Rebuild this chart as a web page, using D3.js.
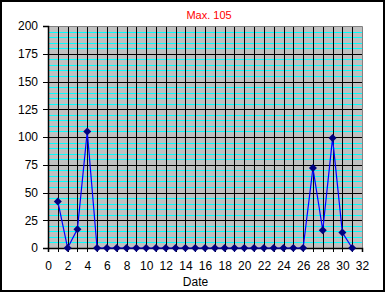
<!DOCTYPE html>
<html lang="en">
<head>
    <meta charset="UTF-8" />
    <title>Max. 105</title>
    <script src="https://d3js.org/d3.v7.min.js"></script>
    <style>
        body { margin: 0; background: #fff; }
        #chart { width: 386px; height: 293px; }
        text { font-family: "Liberation Sans", Arial, sans-serif; }
    </style>
</head>
<body>
    <div id="chart"></div>
    <script>
        // --- Data ---
        const dates = [1, 2, 3, 4, 5, 6, 7, 8, 9, 10, 11, 12, 13, 14, 15, 16,
                       17, 18, 19, 20, 21, 22, 23, 24, 25, 26, 27, 28, 29, 30, 31];
        const values = [42, 0, 17, 105, 0, 0, 0, 0, 0, 0, 0, 0, 0, 0, 0, 0,
                        0, 0, 0, 0, 0, 0, 0, 0, 0, 0, 72, 16, 99, 14, 0];
        const xTicks = d3.range(0, 33, 2);
        const yTicks = [0, 25, 50, 75, 100, 125, 150, 175, 200];
        const titleText = "Max. 105";
        const xTitle = "Date";

        const W = 386, H = 293;
        const margin = { left: 48, top: 26, right: 24, bottom: 45 };

        const svg = d3.select("#chart").append("svg")
            .attr("width", W)
            .attr("height", H);

        const x = d3.scaleLinear().domain([0, 32]).range([margin.left, W - margin.right]);
        const y = d3.scaleLinear().domain([0, 200]).range([H - margin.bottom, margin.top]);

        // outer frame
        svg.append("rect")
            .attr("x", 1).attr("y", 1)
            .attr("width", W - 3).attr("height", H - 3)
            .attr("fill", "#fff")
            .attr("stroke", "#000")
            .attr("stroke-width", 2);

        // plot background
        svg.append("rect")
            .attr("x", x(0)).attr("y", y(200))
            .attr("width", x(32) - x(0)).attr("height", y(0) - y(200))
            .attr("fill", "#c0c0c0");

        // minor horizontal grid (cyan, every 5)
        svg.append("g").selectAll("line")
            .data(d3.range(5, 200, 5).filter(v => v % 25 !== 0))
            .join("line")
            .attr("x1", x(0)).attr("x2", x(32))
            .attr("y1", d => Math.round(y(d)) + 0.5).attr("y2", d => Math.round(y(d)) + 0.5)
            .attr("stroke", "#00ffff")
            .attr("stroke-width", 1);

        // major horizontal grid
        svg.append("g").selectAll("line")
            .data(yTicks.filter(v => v > 0 && v < 200))
            .join("line")
            .attr("x1", x(0)).attr("x2", x(32))
            .attr("y1", d => Math.round(y(d)) + 0.5).attr("y2", d => Math.round(y(d)) + 0.5)
            .attr("stroke", "#000")
            .attr("stroke-width", 1);

        // vertical grid every unit
        svg.append("g").selectAll("line")
            .data(d3.range(1, 32))
            .join("line")
            .attr("x1", d => Math.round(x(d)) + 0.5).attr("x2", d => Math.round(x(d)) + 0.5)
            .attr("y1", y(0)).attr("y2", y(200))
            .attr("stroke", "#000")
            .attr("stroke-width", 1);

        // plot border top/right gray
        svg.append("path")
            .attr("d", `M${x(0)},${Math.round(y(200)) + 0.5}H${Math.round(x(32)) + 0.5}V${y(0)}`)
            .attr("fill", "none")
            .attr("stroke", "#808080")
            .attr("stroke-width", 1);

        // axes
        const xAxis = svg.append("g")
            .attr("transform", `translate(0,${y(0)})`)
            .call(d3.axisBottom(x).tickValues(d3.range(0, 33, 1)).tickSize(4).tickFormat(""));
        const xLabels = svg.append("g")
            .attr("transform", `translate(0,${y(0)})`)
            .call(d3.axisBottom(x).tickValues(xTicks).tickSize(0).tickPadding(13).tickFormat(d3.format("d")));
        xLabels.select(".domain").remove();

        const yAxis = svg.append("g")
            .attr("transform", `translate(${x(0)},0)`)
            .call(d3.axisLeft(y).tickValues(yTicks).tickSize(5).tickPadding(5));

        [xAxis, yAxis].forEach(g => {
            g.select(".domain").attr("stroke", "#000").attr("stroke-width", 1.5);
            g.selectAll(".tick line").attr("stroke", "#000").attr("stroke-width", 1)
                .attr("shape-rendering", "crispEdges");
        });
        svg.selectAll(".tick text")
            .attr("fill", "#000")
            .style("font-family", "'Liberation Sans', Arial, sans-serif")
            .style("font-size", "12px");

        // series line
        const pts = dates.map((d, i) => [d, values[i]]);
        svg.append("path")
            .datum(pts)
            .attr("fill", "none")
            .attr("stroke", "#0000ff")
            .attr("stroke-width", 1.2)
            .attr("d", d3.line().x(d => x(d[0])).y(d => y(d[1])));

        // markers
        svg.append("g").selectAll("path")
            .data(pts)
            .join("path")
            .attr("transform", d => `translate(${x(d[0])},${y(d[1])})`)
            .attr("d", "M0,-4L4,0L0,4L-4,0Z")
            .attr("fill", "#000080");

        // titles
        svg.append("text")
            .attr("x", 209).attr("y", 19)
            .attr("text-anchor", "middle")
            .attr("fill", "#ff0000")
            .style("font-size", "11px")
            .text(titleText);

        svg.append("text")
            .attr("x", 195.5).attr("y", 286)
            .attr("text-anchor", "middle")
            .attr("fill", "#000")
            .style("font-size", "12px")
            .text(xTitle);
    </script>
</body>
</html>
